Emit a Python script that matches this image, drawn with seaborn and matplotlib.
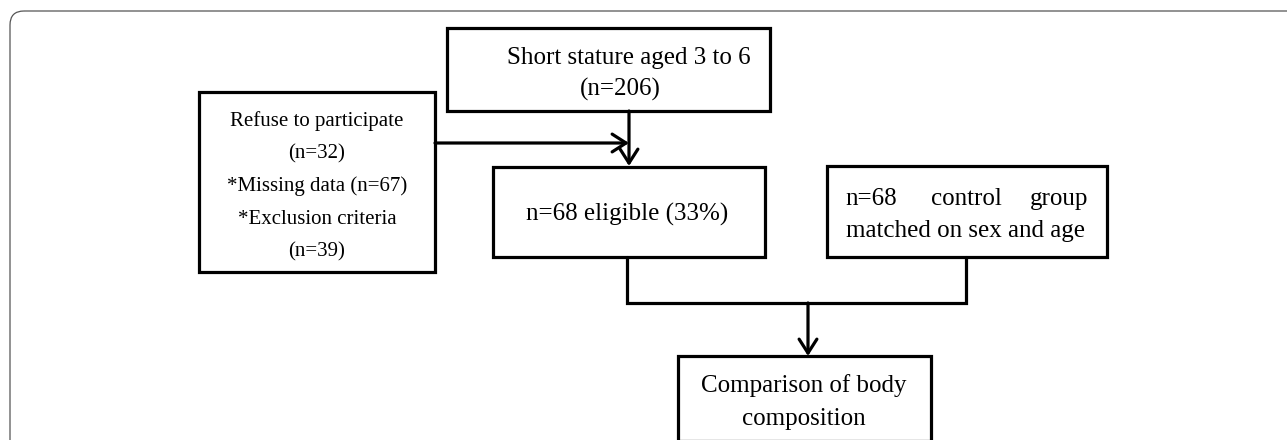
import matplotlib
matplotlib.use("Agg")
import matplotlib.pyplot as plt
from matplotlib.patches import Rectangle, FancyBboxPatch
import seaborn as sns

sns.set_theme(style="white")
plt.rcParams['font.family'] = ['Liberation Serif', 'DejaVu Serif']

# flowchart content
screened_lines = ["Short stature aged 3 to 6", "(n=206)"]
excluded_lines = ["Refuse to participate", "(n=32)", "*Missing data (n=67)",
                  "*Exclusion criteria", "(n=39)"]
eligible_lines = ["n=68 eligible (33%)"]
control_words = ["n=68", "control", "group"]
control_line2 = "matched on sex and age"
outcome_lines = ["Comparison of body", "composition"]

W, H = 1287, 440
fig = plt.figure(figsize=(W / 100, H / 100), dpi=100)
ax = fig.add_axes([0, 0, 1, 1])
ax.set_xlim(0, W)
ax.set_ylim(H, 0)
ax.axis('off')

FS = 18
FS_SMALL = 15
LW = 2.3

# outer rounded frame
frame = FancyBboxPatch((10, 11), 1320, 480, boxstyle="round,pad=0,rounding_size=14",
                       fill=False, ec='#555555', lw=0.9)
ax.add_patch(frame)


def box(x0, y0, x1, y1):
    ax.add_patch(Rectangle((x0, y0), x1 - x0, y1 - y0, fill=False, ec='black',
                           lw=LW, joinstyle='miter'))


def txt(x, y, s, ha='center', fs=FS):
    ax.text(x, y, s, ha=ha, va='baseline', fontsize=fs, color='black')


def arrow(x0, y0, x1, y1):
    ax.annotate("", xy=(x1, y1), xytext=(x0, y0),
                arrowprops=dict(arrowstyle="->,head_length=0.5,head_width=0.32",
                                lw=LW, color='black', mutation_scale=20,
                                shrinkA=0, shrinkB=0))


# screened
box(447, 28, 770, 111)
txt(629, 64, screened_lines[0])
txt(620, 96, screened_lines[1])

# excluded
box(199, 92, 435, 272)
for y, s in zip([126, 158.5, 191, 223.5, 256], excluded_lines):
    txt(317, y, s, fs=FS_SMALL)

# eligible
box(493, 167, 765, 257)
txt(627, 221, eligible_lines[0])

# control
box(827, 166, 1107, 257)
txt(845, 205, control_words[0], ha='left')
txt(966, 205, control_words[1])
txt(1088, 205, control_words[2], ha='right')
txt(966, 237, control_line2)

# outcome
box(678, 356, 931, 440.8)
txt(804, 392, outcome_lines[0])
txt(804, 425, outcome_lines[1])

# connectors
arrow(629, 111, 629, 166)
arrow(435, 143, 629, 143)
ax.plot([627, 627, 966, 966], [257, 303, 303, 257], color='black', lw=LW,
        solid_joinstyle='miter')
arrow(808, 303, 808, 356)

fig.savefig("out.png", dpi=100)
